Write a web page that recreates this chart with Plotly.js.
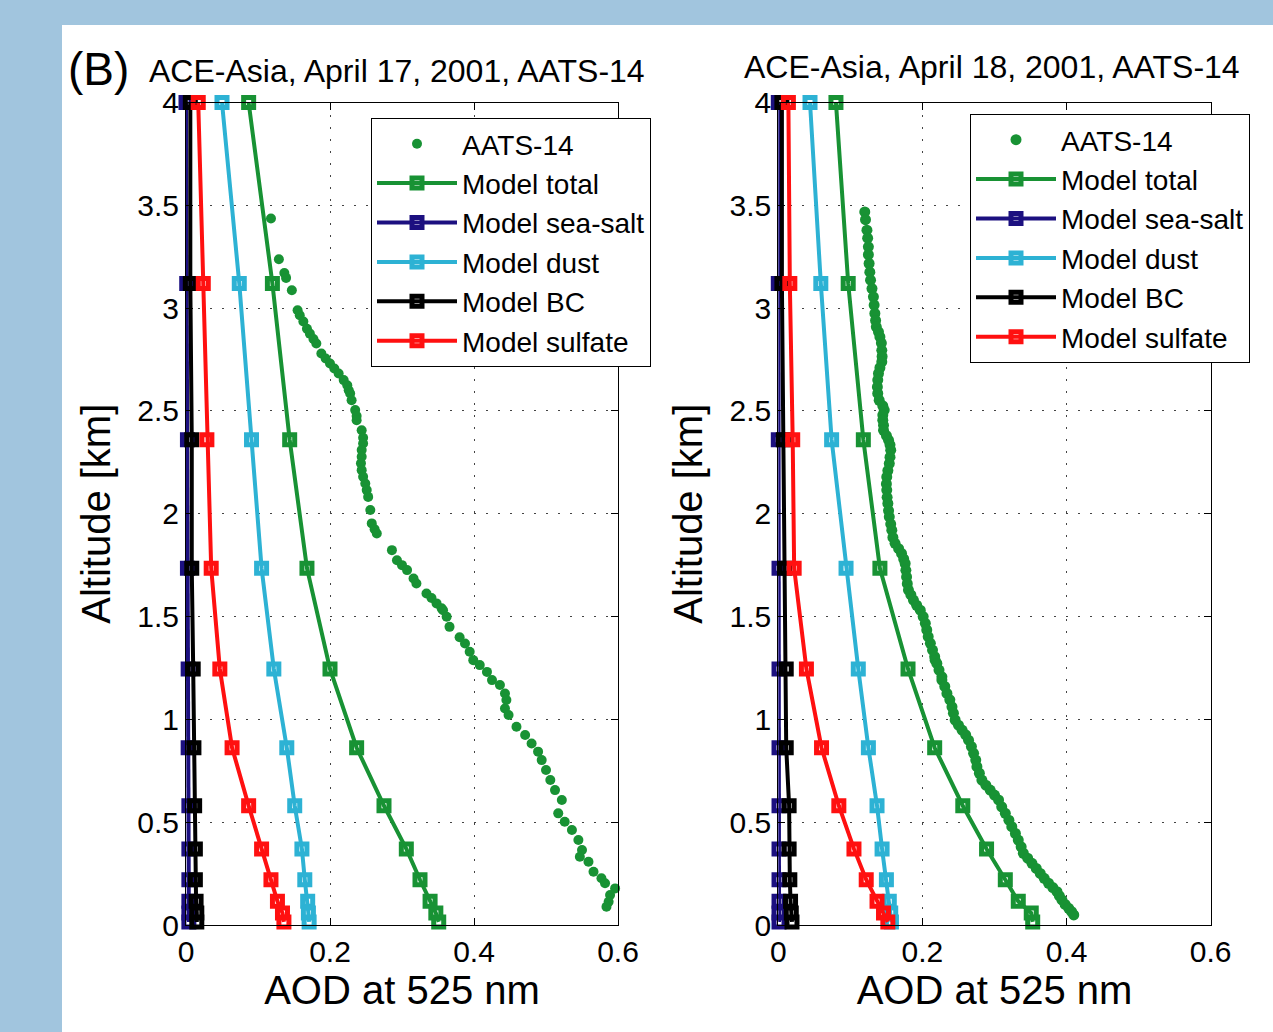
<!DOCTYPE html>
<html>
<head>
<meta charset="utf-8">
<script src="https://cdn.plot.ly/plotly-3.0.1.min.js"></script>
<style>html,body{margin:0;padding:0;background:#a1c5de;}#chart{width:1273px;height:1032px;}</style>
</head>
<body>
<div id="chart"></div>
<script>
// ---- Data ----
const altLevels = [4.0, 3.12, 2.36, 1.735, 1.245, 0.862, 0.58, 0.37, 0.22, 0.115, 0.058, 0.015];

// April 17, 2001
const total17   = [0.087, 0.120, 0.144, 0.168, 0.200, 0.237, 0.275, 0.306, 0.325, 0.339, 0.347, 0.351];
const seasalt17 = [0.000, 0.001, 0.002, 0.002, 0.003, 0.003, 0.004, 0.004, 0.004, 0.004, 0.004, 0.004];
const dust17    = [0.050, 0.074, 0.091, 0.105, 0.122, 0.140, 0.151, 0.161, 0.165, 0.169, 0.170, 0.171];
const bc17      = [0.006, 0.006, 0.008, 0.008, 0.010, 0.011, 0.012, 0.013, 0.013, 0.014, 0.015, 0.015];
const sulfate17 = [0.017, 0.024, 0.029, 0.035, 0.047, 0.064, 0.087, 0.105, 0.118, 0.127, 0.134, 0.136];

const aatsAod17 = [0.118,0.129,0.1366,0.139,0.147,0.155,0.158,0.163,0.168,0.172,0.177,0.181,0.188,0.194,0.200,0.206,0.212,0.219,0.224,0.226,0.228,0.230,0.235,0.237,0.237,0.244,0.246,0.246,0.244,0.244,0.243,0.244,0.246,0.249,0.251,0.253,0.256,0.258,0.262,0.265,
  0.286,0.293,0.300,0.307,0.316,0.320,0.334,0.341,0.348,0.355,0.357,0.362,0.366,
  0.380,0.3875,0.394,0.399,0.408,0.418,0.425,0.436,0.443,0.445,0.443,0.448,0.459,0.471,0.480,0.489,0.494,0.500,0.506,0.5125,0.522,0.517,0.526,0.536,0.545,0.550,0.547,0.559,0.566,0.577,0.582,0.596,0.589,0.587,0.584];
const aatsAlt17 = [3.436,3.238,3.171,3.147,3.087,2.990,2.965,2.935,2.900,2.876,2.850,2.828,2.779,2.755,2.731,2.706,2.682,2.650,2.625,2.601,2.585,2.552,2.504,2.475,2.455,2.406,2.370,2.342,2.310,2.277,2.245,2.212,2.180,2.147,2.115,2.082,2.018,1.953,1.925,1.904,
  1.823,1.774,1.750,1.726,1.685,1.661,1.612,1.590,1.564,1.540,1.531,1.499,1.450,
  1.399,1.369,1.329,1.288,1.264,1.231,1.191,1.167,1.126,1.094,1.053,1.021,0.964,0.924,0.883,0.843,0.802,0.754,0.705,0.656,0.608,0.543,0.502,0.462,0.413,0.365,0.332,0.308,0.259,0.227,0.203,0.178,0.146,0.113,0.089];

// April 18, 2001
const total18   = [0.080, 0.097, 0.118, 0.141, 0.180, 0.217, 0.256, 0.289, 0.315, 0.333, 0.351, 0.353];
const seasalt18 = [0.000, 0.000, 0.000, 0.001, 0.001, 0.001, 0.001, 0.001, 0.001, 0.001, 0.001, 0.001];
const dust18    = [0.044, 0.059, 0.074, 0.094, 0.111, 0.125, 0.137, 0.144, 0.150, 0.154, 0.156, 0.157];
const bc18      = [0.005, 0.005, 0.007, 0.009, 0.011, 0.011, 0.015, 0.015, 0.016, 0.017, 0.018, 0.019];
const sulfate18 = [0.014, 0.016, 0.020, 0.022, 0.039, 0.060, 0.084, 0.105, 0.122, 0.137, 0.146, 0.152];

const aatsAod18 = [0.120,0.121,0.123,0.124,0.125,0.125,0.126,0.127,0.128,0.130,0.132,0.133,0.134,0.135,0.136,0.139,0.141,0.143,0.1436,0.144,0.1436,0.141,0.139,0.138,0.1375,0.138,0.140,0.145,0.147,0.145,0.145,0.146,0.146,0.150,0.153,0.155,0.156,0.155,0.154,0.152,0.1505,0.150,0.1505,0.151,0.152,0.153,0.154,0.156,0.1575,0.159,0.162,0.167,0.171,0.174,0.176,0.177,0.178,0.179,0.1806,0.184,0.1875,0.192,0.197,0.201,0.204,0.206,0.208,0.211,0.214,0.217,0.2176,0.220,0.223,0.227,0.227,0.231,0.234,0.238,0.241,0.243,0.2454,0.250,0.255,0.260,0.264,0.268,0.271,0.274,0.2756,0.279,0.2825,0.288,0.294,0.300,0.3056,0.310,0.315,0.320,0.324,0.329,0.333,0.337,0.340,0.346,0.352,0.358,0.3635,0.369,0.375,0.381,0.3867,0.390,0.3936,0.398,0.403,0.407,0.410];
const aatsAlt18 = [3.468,3.430,3.379,3.340,3.298,3.260,3.217,3.175,3.136,3.095,3.055,3.015,2.974,2.940,2.909,2.885,2.860,2.830,2.795,2.765,2.739,2.710,2.682,2.650,2.617,2.585,2.552,2.525,2.504,2.480,2.455,2.430,2.406,2.380,2.358,2.335,2.309,2.275,2.244,2.210,2.179,2.145,2.115,2.080,2.050,2.015,1.985,1.950,1.920,1.885,1.856,1.830,1.807,1.780,1.758,1.725,1.693,1.660,1.629,1.605,1.580,1.555,1.531,1.500,1.467,1.435,1.402,1.370,1.337,1.305,1.288,1.272,1.240,1.207,1.191,1.160,1.126,1.095,1.061,1.030,0.997,0.972,0.948,0.925,0.899,0.868,0.835,0.802,0.770,0.738,0.705,0.680,0.656,0.632,0.608,0.575,0.543,0.510,0.478,0.445,0.413,0.380,0.349,0.325,0.300,0.275,0.251,0.227,0.203,0.182,0.162,0.142,0.122,0.100,0.081,0.065,0.049];

const seriesNames = ['AATS-14', 'Model total', 'Model sea-salt', 'Model dust', 'Model BC', 'Model sulfate'];
const panelTitles = ['ACE-Asia, April 17, 2001, AATS-14', 'ACE-Asia, April 18, 2001, AATS-14'];
const xTitle = 'AOD at 525 nm';
const yTitle = 'Altitude [km]';

// ---- Styles ----
const FONT = 'Liberation Sans, Arial, Helvetica, sans-serif';
const colors = {total: '#189234', seasalt: '#1c1080', dust: '#2db2d4', bc: '#000000', sulfate: '#ff1010'};

function modelTrace(x, name, color, xa, ya, leg) {
  return {
    x: x, y: altLevels, name: name, type: 'scatter', mode: 'lines+markers',
    xaxis: xa, yaxis: ya, legend: leg, cliponaxis: false,
    line: {color: color, width: 4},
    marker: {symbol: 'square-open', size: 10, color: color, line: {width: 5, color: color}}
  };
}
function aatsTrace(x, y, xa, ya, leg, size) {
  return {
    x: x, y: y, name: seriesNames[0], type: 'scatter', mode: 'markers',
    xaxis: xa, yaxis: ya, legend: leg, cliponaxis: false,
    marker: {symbol: 'circle', size: size, color: colors.total}
  };
}

const traces = [
  aatsTrace(aatsAod17, aatsAlt17, 'x', 'y', 'legend', 10),
  modelTrace(total17, seriesNames[1], colors.total, 'x', 'y', 'legend'),
  modelTrace(seasalt17, seriesNames[2], colors.seasalt, 'x', 'y', 'legend'),
  modelTrace(dust17, seriesNames[3], colors.dust, 'x', 'y', 'legend'),
  modelTrace(bc17, seriesNames[4], colors.bc, 'x', 'y', 'legend'),
  modelTrace(sulfate17, seriesNames[5], colors.sulfate, 'x', 'y', 'legend'),
  aatsTrace(aatsAod18, aatsAlt18, 'x2', 'y2', 'legend2', 11),
  modelTrace(total18, seriesNames[1], colors.total, 'x2', 'y2', 'legend2'),
  modelTrace(seasalt18, seriesNames[2], colors.seasalt, 'x2', 'y2', 'legend2'),
  modelTrace(dust18, seriesNames[3], colors.dust, 'x2', 'y2', 'legend2'),
  modelTrace(bc18, seriesNames[4], colors.bc, 'x2', 'y2', 'legend2'),
  modelTrace(sulfate18, seriesNames[5], colors.sulfate, 'x2', 'y2', 'legend2')
];

function xAxis(domain, anchor) {
  return {
    domain: domain, anchor: anchor, range: [0, 0.6], tickvals: [0, 0.2, 0.4, 0.6], ticktext: ['0', '0.2', '0.4', '0.6'],
    ticks: 'inside', ticklen: 7, tickcolor: '#000', tickwidth: 1,
    showline: true, linecolor: '#000', linewidth: 1, mirror: 'ticks',
    showgrid: true, gridcolor: '#444', gridwidth: 1, griddash: '2px,10px',
    zeroline: false, tickfont: {family: FONT, size: 30, color: '#000'},
    title: {text: xTitle, font: {family: FONT, size: 40, color: '#000'}, standoff: 4}
  };
}
function yAxis(domain, anchor) {
  return {
    domain: domain, anchor: anchor, range: [0, 4], dtick: 0.5, tick0: 0,
    ticks: 'inside', ticklen: 7, tickcolor: '#000', tickwidth: 1,
    showline: true, linecolor: '#000', linewidth: 1, mirror: 'ticks',
    showgrid: true, gridcolor: '#444', gridwidth: 1, griddash: '2px,10px',
    zeroline: false, tickfont: {family: FONT, size: 30, color: '#000'},
    title: {text: yTitle, font: {family: FONT, size: 40, color: '#000'}, standoff: 14}
  };
}

const W = 1273, H = 1032;
const px = v => v / W;
const py = v => 1 - v / H;

const legendBase = {
  bgcolor: '#ffffff', bordercolor: '#000', borderwidth: 1,
  font: {family: FONT, size: 28, color: '#000'},
  xanchor: 'left', yanchor: 'top', itemwidth: 80, tracegroupgap: 0
};

const layout = {
  width: W, height: H,
  margin: {l: 0, r: 0, t: 0, b: 0},
  paper_bgcolor: '#a1c5de', plot_bgcolor: '#ffffff',
  font: {family: FONT, color: '#000'},
  showlegend: true,
  xaxis: xAxis([px(186), px(618)], 'y'),
  yaxis: yAxis([py(925), py(102.5)], 'x'),
  xaxis2: xAxis([px(778.3), px(1210.7)], 'y2'),
  yaxis2: yAxis([py(925), py(102.5)], 'x2'),
  legend: Object.assign({}, legendBase, {x: px(371), y: py(118)}),
  legend2: Object.assign({}, legendBase, {x: px(970), y: py(114)}),
  shapes: [
    {type: 'rect', xref: 'paper', yref: 'paper', x0: px(62), x1: 1.01, y0: -0.01, y1: py(25),
     fillcolor: '#ffffff', line: {width: 0}, layer: 'below'}
  ],
  annotations: [
    {text: '(B)', xref: 'paper', yref: 'paper', x: px(66), y: py(69), xanchor: 'left', yanchor: 'middle',
     showarrow: false, font: {family: FONT, size: 46, color: '#000'}},
    {text: panelTitles[0], xref: 'paper', yref: 'paper', x: px(147), y: py(71), xanchor: 'left', yanchor: 'middle',
     showarrow: false, font: {family: FONT, size: 32, color: '#000'}},
    {text: panelTitles[1], xref: 'paper', yref: 'paper', x: px(742), y: py(67), xanchor: 'left', yanchor: 'middle',
     showarrow: false, font: {family: FONT, size: 32, color: '#000'}}
  ]
};

Plotly.newPlot('chart', traces, layout, {displayModeBar: false, staticPlot: true});
</script>
</body>
</html>
